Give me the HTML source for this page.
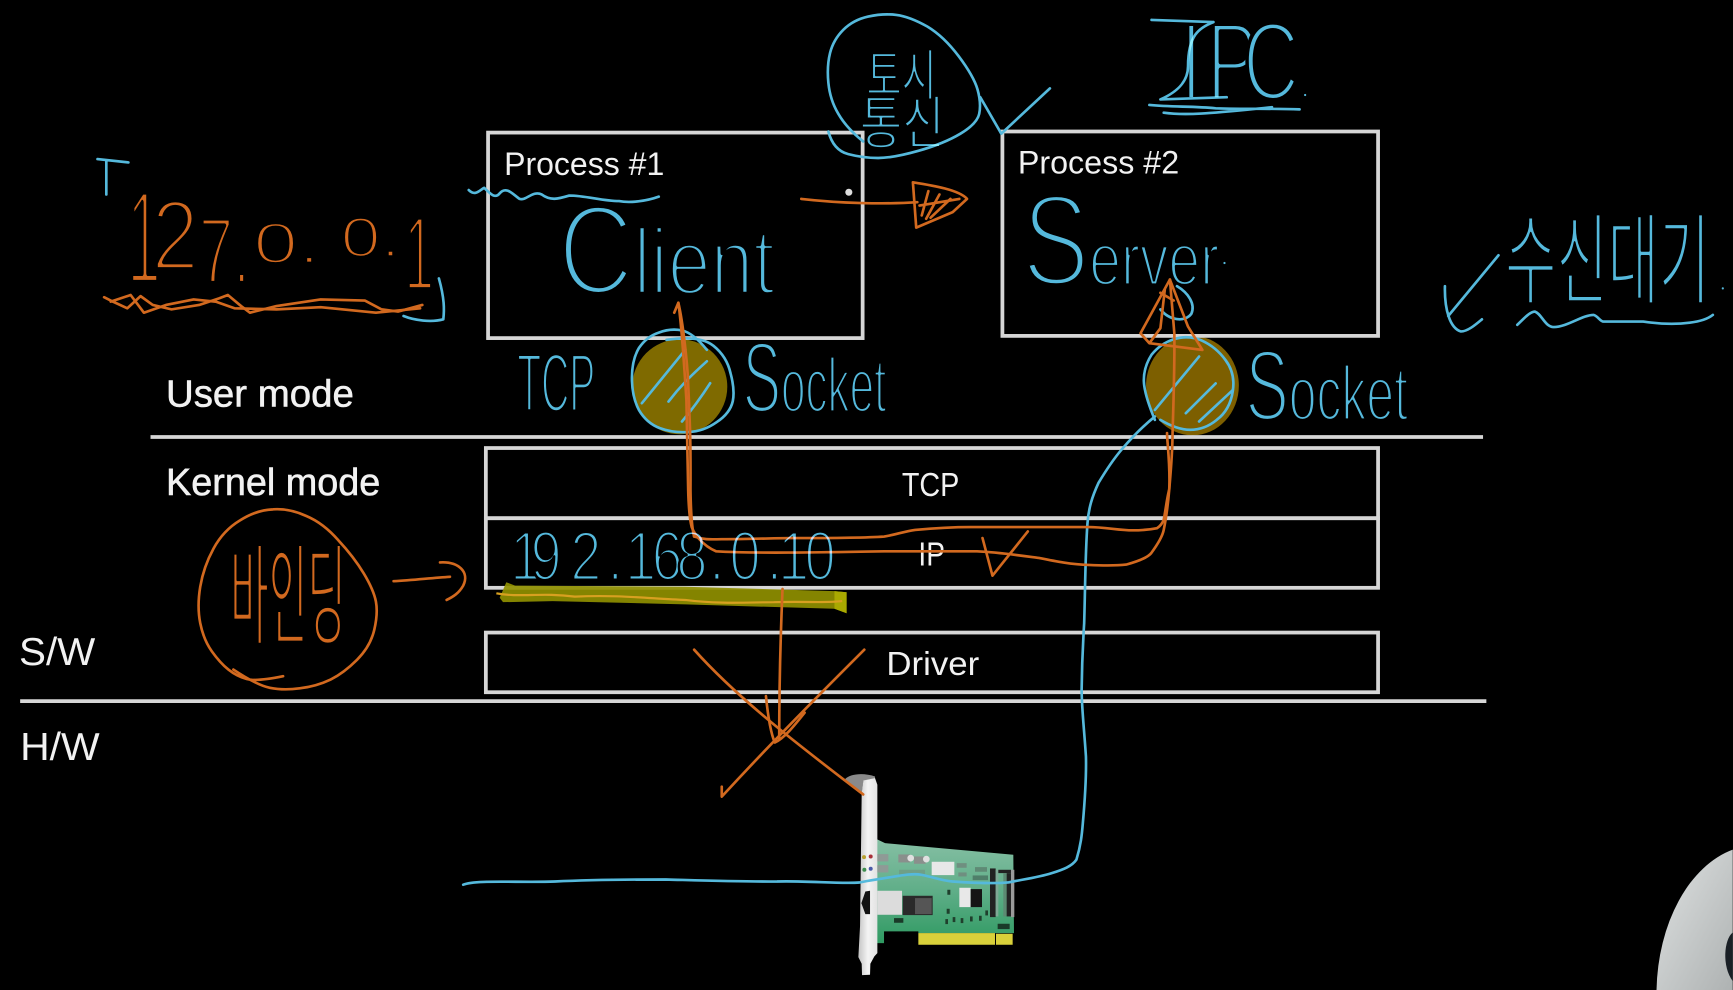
<!DOCTYPE html>
<html lang="ko"><head><meta charset="utf-8"><title>Process communication diagram</title>
<style>
html,body{margin:0;padding:0;background:#000;width:1733px;height:990px;overflow:hidden}
svg{display:block;overflow:hidden}
.l{font-family:"Liberation Sans","Noto Sans CJK KR",sans-serif;fill:#f2f2f2}
.h{font-family:"Liberation Sans","Noto Sans CJK KR",sans-serif;stroke:#000;mix-blend-mode:screen;stroke-linejoin:round}
.hb{fill:#55b9dc}.ho{fill:#d2691f}
.b{fill:none;stroke:#55b9dc;stroke-width:2.4;stroke-linecap:round;stroke-linejoin:round}
.o{fill:none;stroke:#d2691f;stroke-width:2.4;stroke-linecap:round;stroke-linejoin:round}
.r{fill:none;stroke:#d6d6d6;stroke-width:3.4}
</style></head><body>
<svg width="1733" height="990" viewBox="0 0 1568 896" xmlns="http://www.w3.org/2000/svg">
<defs>
<linearGradient id="pcb" x1="0" y1="0" x2="0" y2="1"><stop offset="0" stop-color="#86bfa4"/><stop offset=".5" stop-color="#5fae88"/><stop offset="1" stop-color="#2f9a62"/></linearGradient>
<linearGradient id="br" x1="0" y1="0" x2="1" y2="0"><stop offset="0" stop-color="#c4c4c4"/><stop offset=".5" stop-color="#f4f4f4"/><stop offset="1" stop-color="#e2e2e2"/></linearGradient>
<linearGradient id="av" x1="0" y1="0" x2="1" y2="1"><stop offset="0" stop-color="#dfe2e2"/><stop offset="1" stop-color="#aeb2b2"/></linearGradient>
</defs>
<rect width="1568" height="896" fill="#000"/>

<!-- avatar -->
<path d="M1499 896 A91 135 0 0 1 1568 769 L1568 896 Z" fill="url(#av)"/>
<path d="M1568 844 C1560 850 1558 875 1568 888 Z" fill="#1a2026"/>

<!-- socket fills -->
<circle cx="615" cy="350" r="43" fill="#7f6a00"/>
<ellipse cx="1079" cy="349" rx="42" ry="45" fill="#7d5f00"/>

<!-- boxes -->
<rect class="r" x="441.5" y="120" width="339" height="186"/>
<rect class="r" x="907" y="119" width="340" height="185"/>
<rect class="r" x="439.5" y="405.5" width="807.5" height="63.5"/>
<rect class="r" x="439.5" y="469" width="807.5" height="63"/>
<rect class="r" x="439.5" y="572.5" width="807.5" height="54"/>
<line class="r" x1="136" y1="395.5" x2="1342" y2="395.5"/>
<line class="r" x1="18" y1="634.5" x2="1345" y2="634.5"/>

<!-- labels -->
<text class="l" x="456" y="158.5" font-size="29" textLength="145" lengthAdjust="spacingAndGlyphs">Process #1</text>
<text class="l" x="921" y="157" font-size="29" textLength="146" lengthAdjust="spacingAndGlyphs">Process #2</text>
<text class="l" x="150" y="368" font-size="34" stroke="#f2f2f2" stroke-width=".5" textLength="170" lengthAdjust="spacingAndGlyphs">User mode</text>
<text class="l" x="150" y="448" font-size="34" stroke="#f2f2f2" stroke-width=".5" textLength="194" lengthAdjust="spacingAndGlyphs">Kernel mode</text>
<text class="l" x="17" y="602" font-size="35" textLength="69" lengthAdjust="spacingAndGlyphs">S/W</text>
<text class="l" x="18" y="688" font-size="35" textLength="72" lengthAdjust="spacingAndGlyphs">H/W</text>
<text class="l" x="816" y="449" font-size="30" textLength="52" lengthAdjust="spacingAndGlyphs">TCP</text>
<text class="l" x="831" y="512" font-size="30" textLength="24" lengthAdjust="spacingAndGlyphs">IP</text>
<text class="l" x="802" y="611" font-size="30" textLength="84" lengthAdjust="spacingAndGlyphs">Driver</text>

<!-- NIC card -->
<g transform="scale(.90482) translate(830 760) scale(.33333)">
<path d="M140 238 L165 250 L550 285 L552 520 L497 520 L265 520 L265 515 L162 515 L162 550 L136 550 Z" fill="url(#pcb)"/>
<rect x="265" y="520" width="230" height="35" fill="#d8d03a"/>
<rect x="498" y="522" width="50" height="33" fill="#d8d03a"/>
<path d="M45 58 C60 42 100 38 135 50 L135 64 L100 64 L95 102 Z" fill="#8a8a8a"/>
<path d="M95 100 L100 62 L135 55 L142 75 L142 580 L133 590 L121 612 L120 645 L96 646 L95 612 L85 592 L90 500 Z" fill="url(#br)"/>
<path d="M106 395 L120 393 L120 463 L106 463 L94 430 Z" fill="#111"/>
<circle cx="102" cy="292" r="6" fill="#b8a030"/><circle cx="122" cy="290" r="6" fill="#a8303a"/>
<circle cx="103" cy="330" r="6" fill="#3f8f50"/><circle cx="122" cy="327" r="6" fill="#4a5aa8"/>
<rect x="142" y="283" width="33" height="22" fill="#8f9a96"/><rect x="142" y="316" width="33" height="22" fill="#8f9a96"/>
<rect x="205" y="284" width="35" height="24" fill="#8a8f8c"/><circle cx="242" cy="295" r="10" fill="#e0e0e0"/>
<rect x="252" y="290" width="35" height="22" fill="#8a8f8c"/><circle cx="289" cy="298" r="10" fill="#e0e0e0"/>
<rect x="305" y="306" width="68" height="40" fill="#e8e8e8"/>
<rect x="380" y="310" width="30" height="14" fill="#6f8f80"/><rect x="385" y="338" width="25" height="12" fill="#6f8f80"/>
<rect x="435" y="322" width="36" height="14" fill="#5f8a75"/><rect x="428" y="347" width="46" height="14" fill="#4f7f6a"/>
<rect x="207" y="330" width="78" height="14" fill="#6f9a85" opacity=".8"/>
<rect x="142" y="393" width="74" height="72" fill="#dcdcdc"/>
<rect x="218" y="408" width="90" height="58" fill="#2a2a2a"/><rect x="255" y="415" width="50" height="48" fill="#555"/>
<rect x="388" y="384" width="34" height="58" fill="#e8e8e8"/><rect x="422" y="388" width="34" height="54" fill="#151515"/>
<rect x="480" y="326" width="17" height="146" fill="#222"/><rect x="497" y="330" width="8" height="140" fill="#7fa895"/>
<rect x="505" y="330" width="38" height="10" fill="#222"/><rect x="520" y="340" width="10" height="130" fill="#5c8a72"/><rect x="543" y="330" width="10" height="142" fill="#9a9a9a"/><rect x="530" y="340" width="13" height="130" fill="#222"/>
<rect x="192" y="475" width="28" height="14" fill="#1a3a28"/>
<rect x="352" y="390" width="9" height="15" fill="#1f3f2c"/><rect x="350" y="447" width="9" height="15" fill="#1f3f2c"/>
<rect x="346" y="478" width="8" height="15" fill="#1f3f2c"/><rect x="368" y="472" width="8" height="15" fill="#1f3f2c"/><rect x="392" y="475" width="8" height="15" fill="#1f3f2c"/><rect x="420" y="470" width="8" height="15" fill="#1f3f2c"/><rect x="447" y="468" width="8" height="15" fill="#1f3f2c"/><rect x="466" y="452" width="8" height="15" fill="#1f3f2c"/>
<rect x="503" y="492" width="36" height="16" fill="#1a3a28"/>
</g>

<!-- highlighter -->
<path d="M452 541 L458 527 L466 530 L620 531 L755 535 L766 536 L766 555 L755 551 L620 547 L500 544 L455 545 Z" fill="#8f8f00" opacity=".92"/>
<path d="M755 535 L766 536 L766 555 L755 551 Z" fill="#a9a900"/>
<path d="M449 537 C470 541 490 536 520 540 C560 538 590 542 620 543 C650 547 680 545 700 545 C730 544 745 546 762 544" fill="none" stroke="#d8a020" stroke-width="2"/>

<!-- blue strokes -->
<path class="b" d="M88 144 L116 147 M96 145 L96 176"/>
<path class="b" d="M397 252 C402 270 402 280 401 289 C390 292 375 290 365 286"/>
<path class="b" d="M424 172 C430 178 434 172 438 170 C444 176 448 180 452 175 C458 168 464 176 470 180 C476 182 482 172 490 176 C498 182 505 180 515 177 C530 177 545 182 560 182 C570 184 585 182 596 178"/>
<path class="b" d="M749.5 119 Q754 136 767.5 139.5 Q781 143 794.5 143 Q808 143 831 136.5 Q854 130 869 121 Q884 112 886 103 Q888 93.5 884.5 81 Q881 69 867.5 51 Q854 33 839 24 Q823 15 811 13.5 Q799 12 785.5 15 Q772 18 763 27 Q754 36 751 48 Q748 60 749.5 75 Q751 90.5 758.5 103 Q766 116 781 128"/>
<path class="b" d="M887 88 L906 121 L950 80"/>
<path class="b" d="M1042 18 L1098 20 M1098 20 C1085 25 1075 32 1075 60 C1075 72 1068 82 1050 90 L1110 88"/>
<path class="b" d="M1040 95 C1060 97 1080 96 1100 98 C1130 99 1150 98 1176 99 M1053 102 C1075 105 1100 102 1151 97"/>
<circle cx="1181" cy="86" r="1" fill="#55b9dc"/><circle cx="1108" cy="238" r="1" fill="#55b9dc"/><circle cx="1559" cy="261" r="1" fill="#55b9dc"/>
<path class="b" d="M1356 231 L1310.5 286 M1307.5 259 C1307 280 1312 297 1322 300 C1328 300 1335 294 1341 289"/>
<path class="b" d="M1373 294 C1380 287 1385 282 1389 282 C1395 284 1398 296 1406 296 C1418 296 1432 285 1442 285 C1446 286 1448 291 1451 291 L1487 291 C1500 293 1515 294 1529 292 C1538 291 1545 289 1550 285"/>
<!-- rings & hatches -->
<path class="b" d="M639.5 316.6 Q627.4 301.6 617 299 Q606.3 297 596 301 Q585 304.6 578 315 Q571.7 325.7 571.7 342 Q571.7 359 578 371 Q585 383 597 387.5 Q609 392 623 391 Q636.5 390.5 648.5 382 Q660.6 374 663 363 Q665 352.8 661 338 Q657.6 322.7 645.5 313 Q633.5 303 603 307.6"/>
<path class="b" d="M620 316.6 L580.7 364.9 M639.5 327 C625 340 615 350 604.8 363.4 M642.5 346.8 C634 360 625 372 617 381.5"/>
<path class="b" d="M1045 380 Q1035 356 1035 344 Q1035 332 1042 321 Q1050 311 1062 307 Q1075 303 1087 308 Q1100.4 314 1109 326 Q1118 338 1115.5 354 Q1113 371 1101 380 Q1090 389 1077 389 Q1065 389 1050 380"/>
<path class="b" d="M1085 322.7 L1045 371 M1100 347 L1073 374 M1115.5 353 L1085 381.5"/>
<path class="b" d="M1065 259 C1075 265 1082 275 1078 284 C1072 292 1058 290 1050 280"/>
<!-- long blue line -->
<path class="b" d="M419 800.7 C430 796 470 799 502 797.8 C540 796 570 796 602.5 796 C640 797 670 798 703 797.8 C730 797 760 800 777.6 798.7 C785 797 793 796 800 794.8 C812 793 825 790 834 791.8 C845 794 852 797 862 797.8 C880 799 898 800 912 798.7 C925 796 940 794 951.7 790.2 C962 787 970 784 974 778 C978 765 979 755 979.8 745 C982 720 983 700 982.6 684.7 C981 660 978.7 640 978.7 624.4 C979 600 980 580 981 564 C982 530 982 500 984 473.5 C985 460 988 450 994 437 C1003 422 1008 415 1014.8 407 C1025 395 1035 385 1045 377"/>

<!-- orange strokes -->
<path class="o" d="M94 269 L102 273 L115 279 L127 268 L138 276 L155 280 L180 276 L198 270 L206 267 L218 277 L226 283 L250 277 L290 271 L330 272 L345 280 L360 282 L382 276"/>
<path class="o" d="M100 273 L118 267 L130 283 L150 276 L175 271 L195 273 L212 279 L250 280 L290 278 L340 283 L380 279"/>
<path class="o" d="M725 180 C760 184 800 185 830 183"/>
<path class="o" d="M826 165 L829 206 L862 192 L875 180 C868 172 845 168 826 165 M840 173 L834 195 M850 176 L838 198 M860 180 L842 197 M832 186 L868 180"/>
<circle cx="768" cy="174" r="3.2" fill="#ddd"/>
<path class="o" d="M256 612 Q232 617 223 614.5 Q214 612 206.5 606 Q199 600 191.5 589.5 Q184 579 181 564 Q178 549 181 531 Q184 513 193 496.5 Q202 480 217 471 Q232 461.5 247 461 Q262 460 277 467 Q292.5 473.5 306 489 Q320 504 329 519 Q338 534 340 544.5 Q342 555 338.5 570 Q335 585 323 597 Q311 609 299 615 Q286.5 621 271 623 Q256 625 244 622.5 Q232 620 211 606"/>
<path class="o" d="M356 526 C375 525 390 523 407 522 M398 509 C415 508 425 518 419 530 C415 537 410 540 404 543"/>
<path class="o" d="M708 533 C706 580 705 620 705 668 M693 630 C695 650 698 665 701 672 C710 668 720 655 728 645"/>
<path class="o" d="M628 588 C670 635 730 680 781 719 M782 588 C740 630 700 670 653 721 L653 712"/>
<path class="o" d="M610 283 L613.7 274 C616 290 619 330 621 362 C621.5 380 622 400 622.6 443 C623 460 624 468 625 473.5 C626 482 636 494 648 499 C680 501 740 500 800 499 C840 499 870 499 884 499 C905 500 925 503 940 505 C955 508 970 511 985 511.3 C1000 512 1010 512 1019 511 C1030 508 1038 505 1041.6 500.7 C1048 492 1052 485 1053 479.6 C1056 465 1057 455 1058 443 C1060 420 1061 405 1061 392 C1062 360 1063 330 1062.6 301.6 L1058.6 253"/>
<path class="o" d="M613.7 274 C618 292 622 330 622.6 347 C624 380 625 395 624.7 443 C625 465 626 478 628 485.6"/>
<path class="o" d="M628 485.6 C638 489 645 488 653 488 C680 488 700 487 716 487 C750 487 780 487 800 485.6 C810 484 818 481 828 479.6 C845 478 860 477 878.7 477 C920 477 955 477 985 477 C1000 477 1012 480 1025 480 C1035 480 1042 479 1047 478 C1050 476 1052 473 1053 470.5 C1055 460 1056 450 1058 443 C1059 420 1056 400 1056 392"/>
<path class="o" d="M1058.6 253 L1032 301.6 L1040 310.6 L1088 316.7 L1075 295.6 L1058.6 253 M1054 262 L1050 297 L1040 310.6 M1050 265 L1062 272"/>
<path class="o" d="M889 487 L898 521 L930 481"/>

<!-- handwritten text -->
<text class="h hb" transform="translate(505 266) scale(.82 1)"><tspan font-size="115" stroke-width="5.5">C</tspan><tspan font-size="85" stroke-width="4">lient</tspan></text>
<text class="h hb" transform="translate(925 258) scale(.77 1)"><tspan font-size="118" stroke-width="5.5">S</tspan><tspan font-size="67" stroke-width="3">erver</tspan></text>
<text class="h hb" transform="translate(672 373) scale(.57 1)"><tspan font-size="91" stroke-width="3.8">S</tspan><tspan font-size="70" stroke-width="3">ocket</tspan></text>
<text class="h hb" transform="translate(1127 380) scale(.645 1)"><tspan font-size="91" stroke-width="3.8">S</tspan><tspan font-size="70" stroke-width="3">ocket</tspan></text>
<text class="h hb" transform="translate(468 372) scale(.47 1)" font-size="75" stroke-width="3.2">TCP</text>
<text class="h hb" transform="translate(0 90) scale(.7 1)" font-size="100" stroke-width="4.5" x="1526 1560 1607">IPC</text>
<text class="h hb" transform="translate(0 525) scale(.8 1)" font-size="63" stroke-width="2.8" x="577 600 645 687 707 737 765 802 825 867 880 910">192.168.0.10</text>
<text class="h hb" transform="translate(784 86) scale(.69 1)" font-size="50" stroke-width="1.7" font-family="Noto Sans CJK KR">토시</text>
<text class="h hb" transform="translate(778 130) scale(.8 1)" font-size="52" stroke-width="1.8" font-family="Noto Sans CJK KR">통신</text>
<text class="h hb" transform="translate(1362 268) scale(.56 1)" font-size="90" stroke-width="3.2" font-family="Noto Sans CJK KR">수신대기</text>

<text class="h ho" transform="translate(115 256) scale(.45 1)" font-size="120" stroke-width="5.5">1</text>
<text class="h ho" transform="translate(137 244) scale(.85 1)" font-size="90" stroke-width="4.2">2</text>
<text class="h ho" transform="translate(180 256) scale(.65 1)" font-size="85" stroke-width="3.8">7.</text>
<text class="h ho" transform="translate(229 238) scale(1.4 1)" font-size="52" stroke-width="2.4">0.</text>
<text class="h ho" transform="translate(308 232) scale(1.3 1)" font-size="50" stroke-width="2.3">0.</text>
<text class="h ho" transform="translate(366 262) scale(.5 1)" font-size="95" stroke-width="4.2">1</text>
<text class="h ho" transform="translate(208 575) scale(.38 1)" font-size="100" stroke-width="3.4" font-family="Noto Sans CJK KR">바인딩</text>
</svg>
</body></html>
